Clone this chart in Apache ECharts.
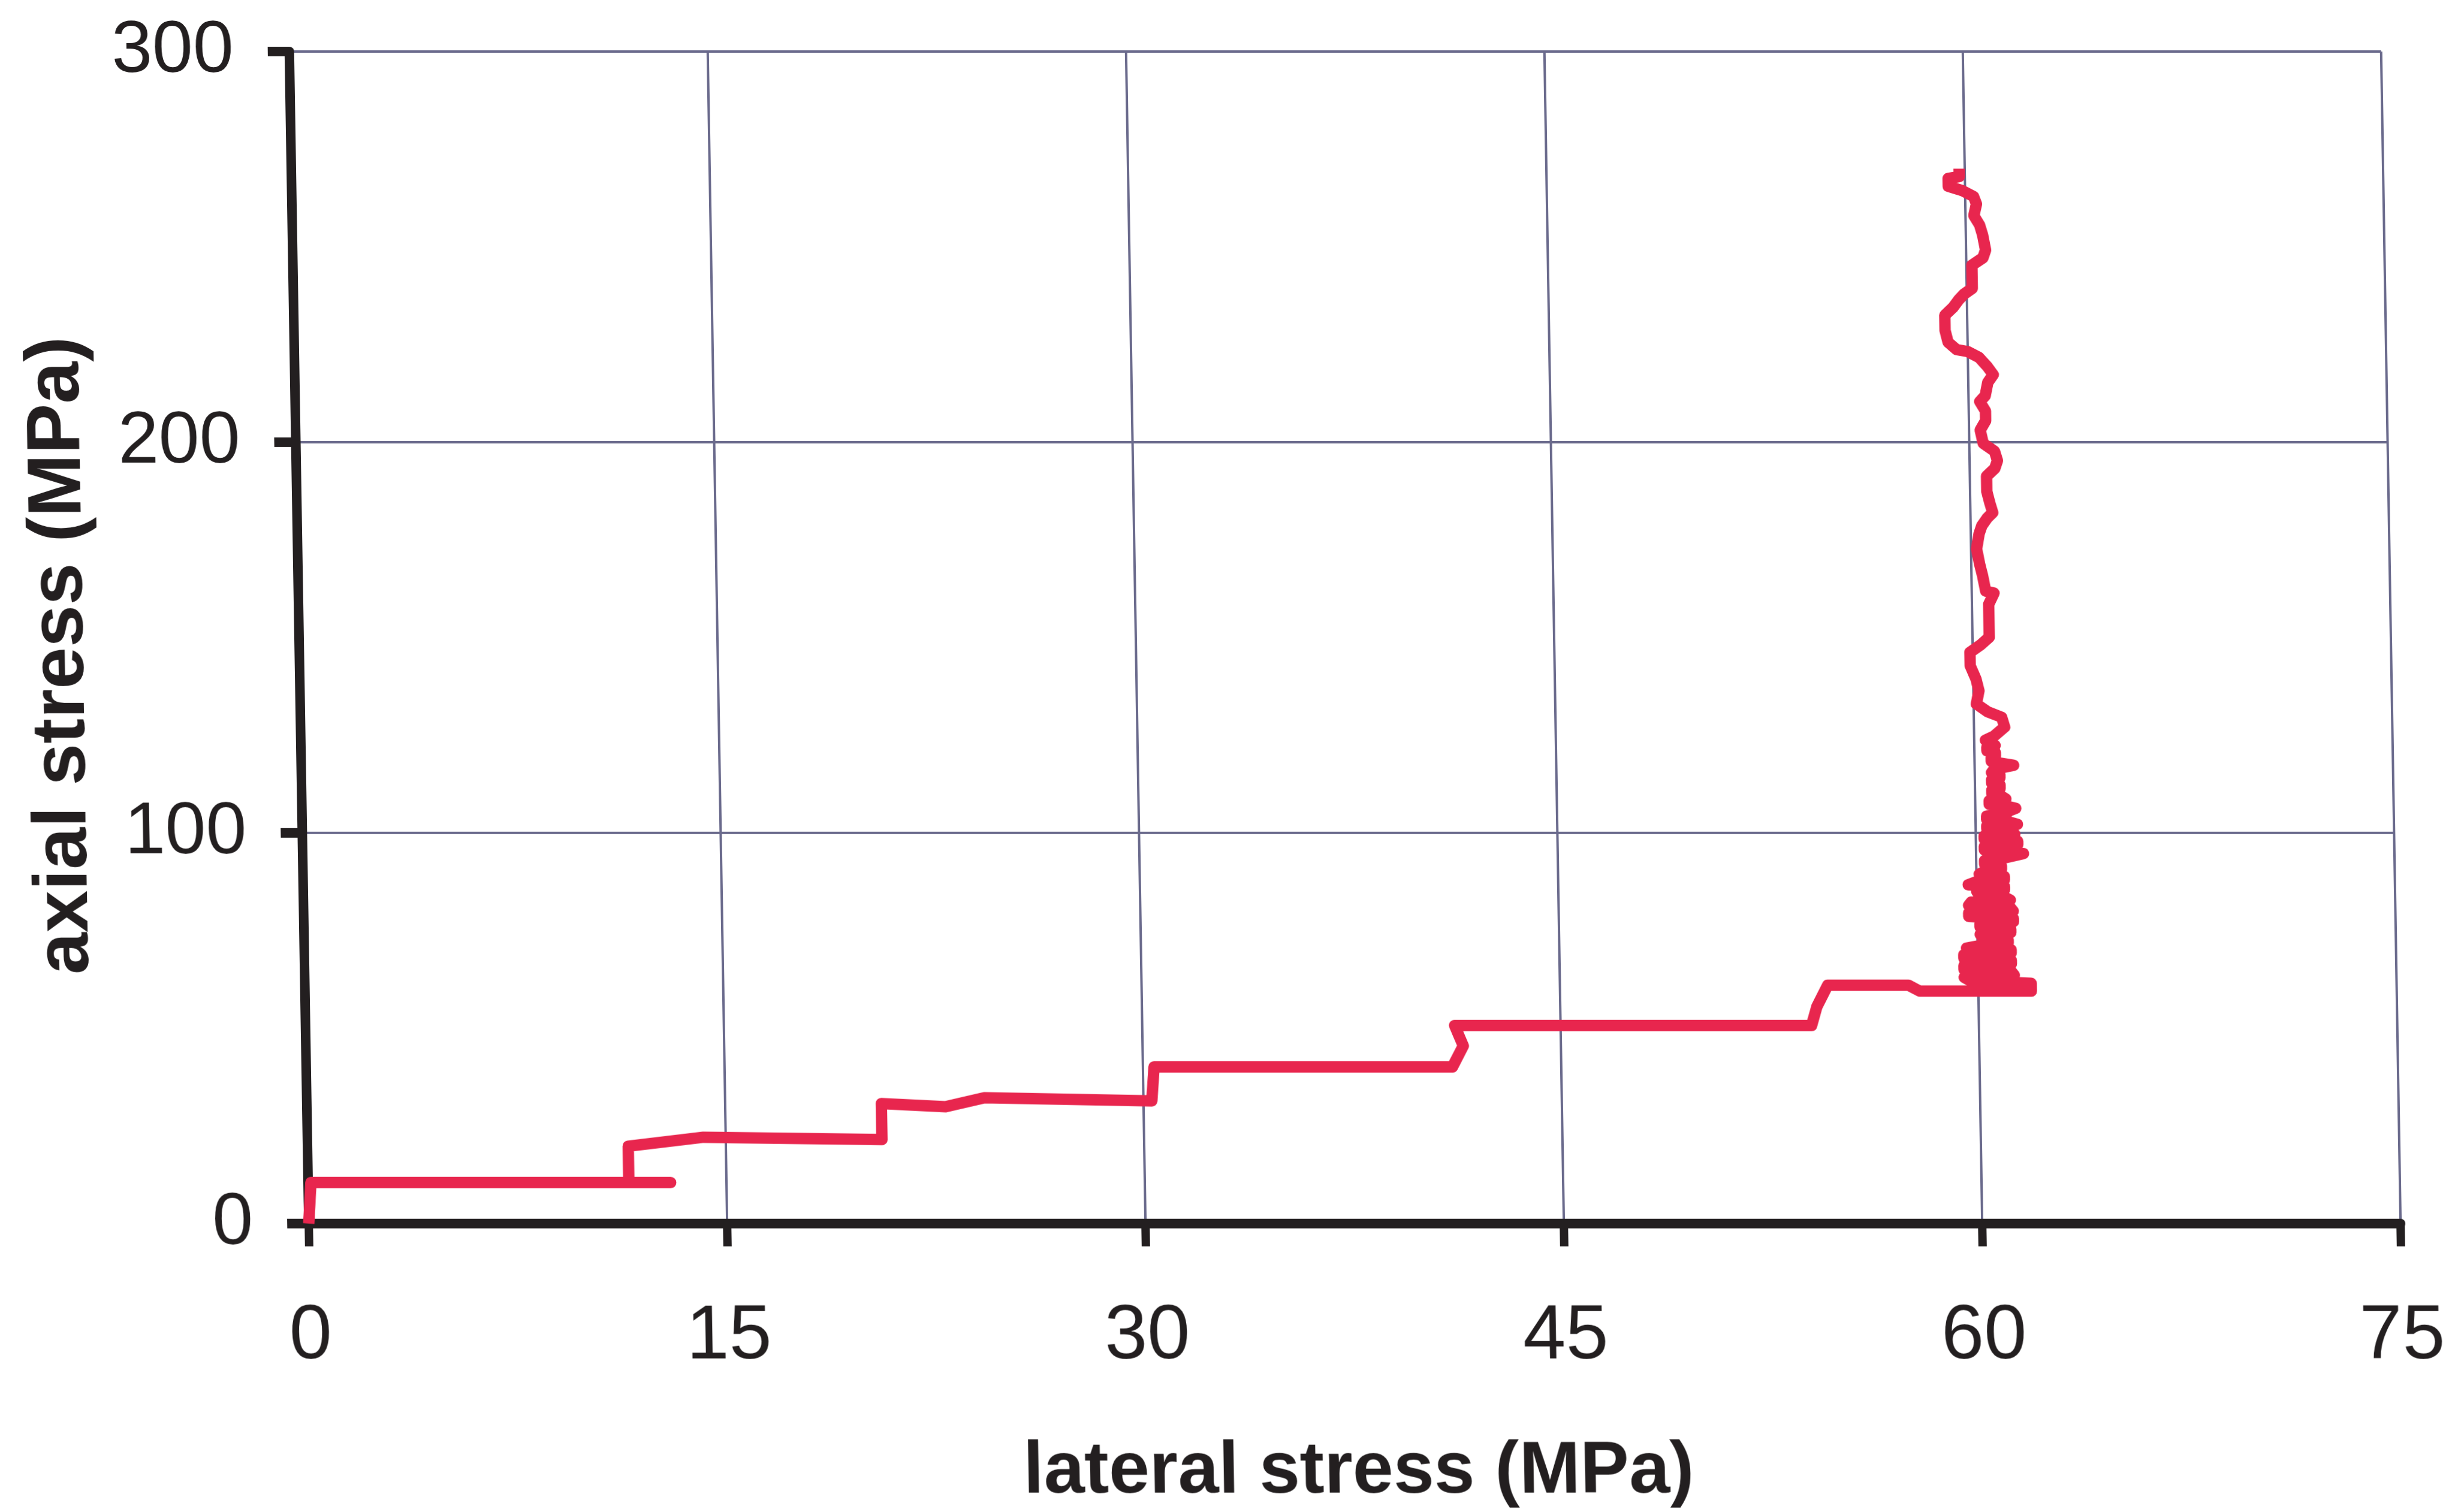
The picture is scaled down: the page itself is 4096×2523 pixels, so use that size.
<!DOCTYPE html>
<html>
<head>
<meta charset="utf-8">
<style>
html,body{margin:0;padding:0;background:#ffffff;overflow:hidden;}
#chart{width:4096px;height:2523px;transform:skewX(0.95deg);transform-origin:0 1066px;}
</style>
<script src="https://cdn.jsdelivr.net/npm/echarts@6/dist/echarts.min.js"></script>
</head>
<body>
<div id="chart"></div>
<script>
// lateral stress (MPa), read along the recorded path
const lateral = [
  // loading steps
  0, 0.1, 13.0, 11.5, 11.5, 14.2, 20.6, 20.6, 22.9, 24.3, 30.3, 30.4, 41.1, 41.5, 41.2,
  54.0, 54.2, 54.6, 57.5, 57.9, 61.9, 61.9,
  // dense cycling band (≈62–124 MPa axial)
  59.7, 59.5, 61.3, 61.2, 59.5, 59.5, 61.2, 61.2, 59.5, 59.5,
  61.2, 61.2, 59.6, 60.2, 61.1, 61.1, 60.2, 60.1, 61.2, 61.2,
  60.1, 60.1, 61.3, 61.3, 59.7, 59.7, 61.3, 61.2, 59.7, 59.8,
  61.2, 61.0, 60.1, 60.0, 61.0, 61.0, 59.7, 60.0, 61.0, 61.0,
  60.1, 60.3, 60.9, 60.9, 60.3, 60.3, 60.9, 61.7, 60.9, 60.3,
  60.3, 61.5, 61.5, 60.3, 60.3, 61.4, 61.2, 60.4, 60.4, 61.5,
  61.1, 60.4, 60.4, 61.1, 61.2, 61.45, 61.1, 60.5, 60.5, 61.1,
  60.9, 60.6, 60.6, 60.9, 60.9, 60.6, 60.6, 60.9, 60.9, 60.6,
  60.7, 61.4, 60.9, 60.6, 60.6, 60.75, 60.75, 60.45, 60.45, 60.75,
  60.6, 60.4,
  // upper wandering part
  60.7, 61.1, 61.0, 60.5, 60.1, 60.2, 60.1, 59.9, 59.9, 60.3,
  60.6, 60.6, 60.6, 60.8, 60.5, 60.4, 60.3, 60.2, 60.3, 60.4,
  60.6, 60.8, 60.7, 60.6, 60.6, 60.9, 61.0, 60.9, 60.5, 60.4,
  60.6, 60.6, 60.4, 60.6, 60.7, 60.9, 60.7, 60.4, 60.0, 59.6,
  59.3, 59.2, 59.2, 59.5, 59.7, 59.9, 60.2, 60.2, 60.2, 60.6,
  60.7, 60.6, 60.5, 60.3, 60.4, 60.3, 59.9, 59.4, 59.4, 59.8,
  59.8
];
// axial stress (MPa), same path order
const axial = [
  0, 10.5, 10.5, 10.5, 19.8, 22.1, 21.5, 30.7, 29.9, 32.2, 31.4, 40.1, 40.1, 45.5, 50.7,
  50.7, 55.5, 61.0, 61.0, 59.5, 59.5, 61.5,
  62.2, 63.0, 63.6, 64.5, 65.0, 66.0, 66.5, 67.4, 67.9, 68.8,
  69.3, 70.1, 70.5, 71.3, 71.8, 72.7, 73.1, 74.0, 74.5, 75.4,
  75.9, 76.8, 77.3, 78.1, 78.6, 79.5, 80.0, 80.9, 81.4, 82.3,
  82.8, 83.6, 84.1, 85.0, 85.5, 86.3, 86.7, 87.5, 88.0, 88.9,
  89.4, 90.2, 90.7, 91.6, 92.0, 92.9, 93.4, 94.7, 95.2, 95.6,
  96.5, 97.0, 97.9, 98.4, 99.2, 99.7, 100.6, 101.0, 101.8, 102.2,
  103.0, 103.4, 104.3, 104.8, 105.6, 106.3, 106.9, 107.3, 108.2, 108.7,
  109.6, 110.0, 110.9, 111.4, 112.3, 112.7, 113.6, 114.1, 115.0, 115.4,
  116.3, 117.3, 117.9, 118.3, 119.2, 119.7, 120.6, 121.0, 121.9, 122.4,
  123.1, 123.7,
  124.7, 127.1, 129.6, 131.0, 133.0, 136.4, 139.4, 142.8, 146.2, 148.2,
  150.1, 153.1, 158.5, 161.4, 161.9, 165.8, 168.8, 172.7, 176.6, 178.6,
  180.6, 182.0, 184.5, 187.4, 191.3, 193.3, 195.3, 197.7, 199.7, 203.1,
  205.5, 208.0, 210.4, 211.9, 215.3, 217.3, 219.3, 221.7, 223.2, 223.7,
  225.6, 228.6, 232.5, 234.5, 236.4, 237.9, 239.4, 241.3, 245.3, 247.2,
  249.2, 253.1, 255.6, 258.0, 261.0, 262.9, 264.4, 265.5, 267.5, 268.0,
  270.0
];
const xTicks = { min: 0, max: 75, interval: 15 };
const yTicks = { min: 0, max: 300, interval: 100 };
const xName = 'lateral stress (MPa)';
const yName = 'axial stress (MPa)';

const pathData = lateral.map((x, i) => [x, axial[i]]);

const FONT = "'Liberation Sans', Arial, Helvetica, sans-serif";
const DARK = '#231f20';
const GRID = '#6a6a8c';

const chart = echarts.init(document.getElementById('chart'), null, { renderer: 'canvas' });
chart.setOption({
  animation: false,
  backgroundColor: '#ffffff',
  grid: { left: 499, right: 107, top: 86, bottom: 476, containLabel: false },
  xAxis: {
    type: 'value',
    min: xTicks.min, max: xTicks.max, interval: xTicks.interval,
    name: xName,
    nameLocation: 'middle',
    nameGap: 354,
    nameTextStyle: { fontFamily: FONT, fontWeight: 'bold', fontSize: 122, color: DARK },
    axisLine: { show: true, onZero: false, lineStyle: { color: DARK, width: 16 } },
    axisTick: { show: true, inside: false, length: 38, lineStyle: { color: DARK, width: 14 } },
    axisLabel: { show: true, margin: 126, fontFamily: FONT, fontSize: 128, color: DARK },
    splitLine: { show: true, lineStyle: { color: GRID, width: 4 } }
  },
  yAxis: {
    type: 'value',
    min: yTicks.min, max: yTicks.max, interval: yTicks.interval,
    name: yName,
    nameLocation: 'middle',
    nameRotate: 90,
    nameGap: 333,
    nameTextStyle: { fontFamily: FONT, fontWeight: 'bold', fontSize: 126, color: DARK, padding: [0, 60, 0, 0] },
    axisLine: { show: true, onZero: false, lineStyle: { color: DARK, width: 16 } },
    axisTick: { show: true, inside: false, length: 36, lineStyle: { color: DARK, width: 16 } },
    axisLabel: { show: true, margin: 93, fontFamily: FONT, fontSize: 122, color: DARK },
    splitLine: { show: true, lineStyle: { color: GRID, width: 4 } }
  },
  series: [{
    type: 'line',
    data: pathData,
    showSymbol: false,
    symbol: 'none',
    smooth: false,
    clip: false,
    lineStyle: { color: '#e8264e', width: 19, join: 'round', cap: 'butt' },
    z: 5
  }]
});
</script>
</body>
</html>
